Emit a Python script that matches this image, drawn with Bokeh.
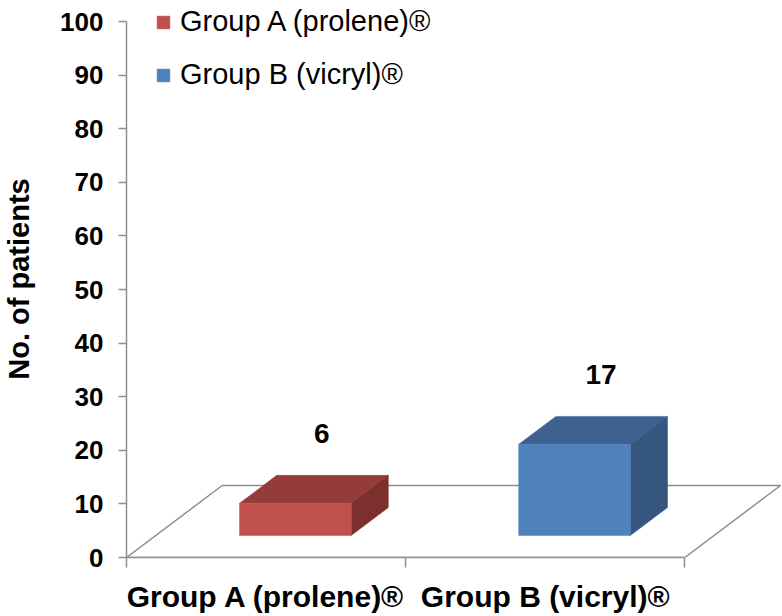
import math
from bokeh.plotting import figure
from bokeh.models import Range1d, LinearAxis, FixedTicker, Legend, LegendItem
from bokeh.core.properties import value
from bokeh.embed import file_html
from bokeh.resources import INLINE

# ---- data ----
categories = ["Group A (prolene)\u00ae", "Group B (vicryl)\u00ae"]
patients = [6, 17]
front_colors = ["#c0504d", "#4f81bd"]
top_colors = ["#943c39", "#3d6292"]
side_colors = ["#7c2f2d", "#34567f"]
y_ticks = list(range(0, 101, 10))
y_title = "No. of patients"

FONT = "Liberation Sans"
GRAY = "#8e8e8e"

# ---- layout ----
W, H = 782, 616
LEFT, RIGHT, TOP, BOTTOM = 124, 0, 0, 59
PX_X = 280.0   # pixels per category
PX_Y = 5.36    # pixels per patient
x_end = (W - LEFT - RIGHT) / PX_X
y_end = (H - TOP - BOTTOM) / PX_Y

# 3D projection constants (fraction of floor depth)
DEPTH_X = 96.0 / PX_X
DEPTH_Y = 72.0 / PX_Y
T_FRONT, T_BACK = 0.306, 0.694
HALF_W = 0.2

p = figure(width=W, height=H, output_backend="svg", toolbar_location=None,
           x_range=Range1d(0, x_end), y_range=Range1d(0, y_end),
           min_border_left=LEFT, min_border_right=RIGHT,
           min_border_top=TOP, min_border_bottom=BOTTOM,
           x_axis_location=None, y_axis_location=None)
p.grid.visible = False
p.outline_line_color = None
p.background_fill_color = "white"

n = len(categories)
# floor
p.line([0, n, n + DEPTH_X, DEPTH_X, 0], [0, 0, DEPTH_Y, DEPTH_Y, 0],
       line_color=GRAY, line_width=1.5)

front_renderers = []
label_x, label_y, label_t = [], [], []
dd_x = DEPTH_X * (T_BACK - T_FRONT)
for i, v in enumerate(patients):
    xc = i + 0.5
    fx0 = xc - HALF_W + DEPTH_X * T_FRONT
    fx1 = xc + HALF_W + DEPTH_X * T_FRONT
    fy0 = DEPTH_Y * T_FRONT
    fy1 = fy0 + v
    by0 = DEPTH_Y * T_BACK
    by1 = by0 + v
    # top face
    p.patch([fx0, fx1, fx1 + dd_x, fx0 + dd_x], [fy1, fy1, by1, by1],
            fill_color=top_colors[i], line_color=top_colors[i], line_width=0.5)
    # side face
    p.patch([fx1, fx1 + dd_x, fx1 + dd_x, fx1], [fy0, by0, by1, fy1],
            fill_color=side_colors[i], line_color=side_colors[i], line_width=0.5)
    # front face
    r = p.patch([fx0, fx1, fx1, fx0], [fy0, fy0, fy1, fy1],
                fill_color=front_colors[i], line_color=front_colors[i], line_width=0.5)
    front_renderers.append(r)
    label_x.append(xc + 0.2)
    label_y.append(by1 + 7.8)
    label_t.append(str(v))

p.text(x=label_x, y=label_y, text=label_t, text_font=value(FONT),
       text_font_style="bold", text_font_size="28px", text_align="center",
       text_baseline="middle", text_color="black")

# y axis
yaxis = LinearAxis(ticker=FixedTicker(ticks=y_ticks), bounds=(0, 100))
yaxis.axis_line_color = GRAY
yaxis.axis_line_width = 1.5
yaxis.major_tick_line_color = GRAY
yaxis.major_tick_line_width = 1.5
yaxis.major_tick_out = 8
yaxis.major_tick_in = 0
yaxis.minor_tick_line_color = None
yaxis.major_label_text_font = FONT
yaxis.major_label_text_font_style = "bold"
yaxis.major_label_text_font_size = "26px"
yaxis.major_label_text_color = "black"
yaxis.major_label_standoff = 15
yaxis.axis_label = y_title
yaxis.axis_label_text_font = FONT
yaxis.axis_label_text_font_style = "bold"
yaxis.axis_label_text_font_size = "29px"
yaxis.axis_label_text_color = "black"
yaxis.axis_label_standoff = 22
p.add_layout(yaxis, "left")

# x axis
xaxis = LinearAxis(ticker=FixedTicker(ticks=[i + 0.5 for i in range(n)],
                                      minor_ticks=list(range(n + 1))),
                   bounds=(0, n))
xaxis.major_label_overrides = {i + 0.5: c for i, c in enumerate(categories)}
xaxis.axis_line_color = GRAY
xaxis.axis_line_width = 1.5
xaxis.major_tick_line_color = None
xaxis.major_tick_out = 0
xaxis.major_tick_in = 0
xaxis.minor_tick_line_color = GRAY
xaxis.minor_tick_line_width = 1.5
xaxis.minor_tick_out = 10
xaxis.minor_tick_in = 0
xaxis.major_label_text_font = FONT
xaxis.major_label_text_font_style = "bold"
xaxis.major_label_text_font_size = "30px"
xaxis.major_label_text_color = "black"
xaxis.major_label_standoff = 12
p.add_layout(xaxis, "below")

# legend
legend = Legend(items=[LegendItem(label=c, renderers=[r])
                       for c, r in zip(categories, front_renderers)],
                location=(29, 466))
legend.label_text_font = FONT
legend.label_text_font_size = "29px"
legend.label_text_color = "black"
legend.glyph_width = 16
legend.glyph_height = 16
legend.spacing = 20
legend.padding = 0
legend.margin = 0
legend.label_standoff = 9
legend.border_line_color = None
legend.background_fill_alpha = 0
p.add_layout(legend)

open("out.html", "w").write(file_html(p, INLINE))
